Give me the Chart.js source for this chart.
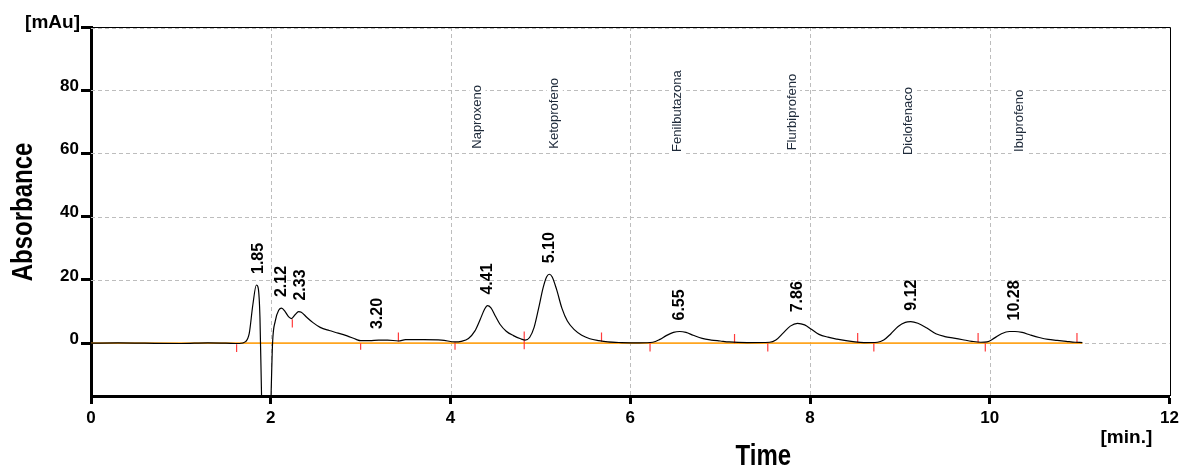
<!DOCTYPE html>
<html>
<head>
<meta charset="utf-8">
<script src="https://cdn.jsdelivr.net/npm/chart.js@4/dist/chart.umd.min.js"></script>
<style>
  html, body { margin: 0; padding: 0; background: #fff; }
  #wrap { width: 1183px; height: 469px; }
</style>
</head>
<body>
<div id="wrap"><canvas id="c" width="1183" height="469"></canvas></div>
<script>
// ---- chromatogram trace (time in min, absorbance in mAu) ----
const times = [0, 0.3, 0.6, 1.0, 1.3, 1.5, 1.65, 1.72, 1.76, 1.80, 1.84, 1.86, 1.88, 1.90, 1.93, 1.97, 2.00, 2.02, 2.05, 2.09, 2.12, 2.16, 2.20, 2.23, 2.27, 2.31, 2.34, 2.40, 2.47, 2.55, 2.65, 2.75, 2.85, 2.95, 3.00, 3.10, 3.20, 3.30, 3.42, 3.50, 3.70, 3.90, 4.05, 4.12, 4.20, 4.27, 4.33, 4.38, 4.41, 4.45, 4.50, 4.55, 4.62, 4.70, 4.78, 4.83, 4.88, 4.93, 4.98, 5.03, 5.07, 5.10, 5.13, 5.18, 5.24, 5.30, 5.38, 5.46, 5.55, 5.65, 5.75, 5.90, 6.10, 6.25, 6.33, 6.40, 6.48, 6.55, 6.62, 6.70, 6.80, 6.90, 7.00, 7.10, 7.30, 7.55, 7.62, 7.70, 7.78, 7.86, 7.94, 8.02, 8.10, 8.20, 8.30, 8.40, 8.50, 8.60, 8.75, 8.82, 8.90, 8.98, 9.06, 9.12, 9.20, 9.30, 9.40, 9.50, 9.60, 9.70, 9.80, 9.90, 9.97, 10.05, 10.13, 10.22, 10.28, 10.36, 10.45, 10.55, 10.65, 10.75, 10.85, 10.95, 11.03];
const absorbance = [0.0, 0.1, 0.0, -0.1, 0.1, 0.0, -0.1, 0.5, 3.0, 12.0, 18.4, 17.5, 8.0, -20, -45, -45, -20, 0.0, 7.0, 10.5, 11.1, 10.0, 8.3, 7.8, 9.0, 10.0, 9.8, 8.2, 6.5, 5.0, 4.0, 3.2, 2.3, 1.2, 0.8, 0.8, 1.0, 1.0, 0.7, 1.1, 1.1, 1.0, 0.4, 0.6, 1.5, 3.8, 7.5, 10.8, 11.9, 11.2, 8.5, 6.0, 3.8, 2.4, 1.4, 1.0, 1.8, 5.0, 11.0, 17.5, 21.0, 21.8, 21.0, 17.0, 11.0, 7.0, 4.2, 2.5, 1.4, 0.8, 0.4, 0.2, 0.1, 0.3, 1.2, 2.4, 3.4, 3.7, 3.4, 2.5, 1.5, 1.0, 0.7, 0.4, 0.2, 0.3, 1.0, 3.2, 5.4, 6.3, 5.8, 4.3, 2.8, 1.9, 1.3, 0.8, 0.4, 0.2, 0.3, 1.0, 3.0, 5.3, 6.6, 6.8, 6.3, 4.8, 3.0, 2.1, 1.6, 1.1, 0.6, 0.3, 0.4, 1.6, 3.0, 3.7, 3.7, 3.4, 2.6, 1.8, 1.2, 0.9, 0.6, 0.3, 0.2];

// ---- baseline ----
const baselineTimes = [0, 11.03];
const baselineValues = [0, 0];

// ---- integration marks ----
const integTimes = [1.62, 2.24, 3.00, 3.42, 4.05, 4.82, 5.68, 6.22, 7.16, 7.53, 8.53, 8.71, 9.87, 9.95, 10.97];
const integLow   = [-2.8, 5.0, -2.1, 0.5, -2.1, -1.9, 0.5, -2.6, 0.0, -2.6, 0.2, -2.6, 0.2, -2.6, 0.2];
const integHigh  = [-0.3, 7.6, 0.0, 3.4, 0.2, 3.7, 3.4, 0.0, 2.9, 0.0, 3.2, 0.0, 3.2, 0.0, 3.2];

// ---- peak retention labels ----
const peakTimes   = [1.86, 2.12, 2.33, 3.19, 4.41, 5.10, 6.55, 7.86, 9.13, 10.28];
const peakHeights = [18.4, 11.1, 10.0, 1.0, 11.9, 21.8, 3.7, 6.3, 6.8, 3.7];
const peakLabels  = ['1.85', '2.12', '2.33', '3.20', '4.41', '5.10', '6.55', '7.86', '9.12', '10.28'];

// ---- compound names ----
const compoundNames = ['Naproxeno', 'Ketoprofeno', 'Fenilbutazona', 'Flurbiprofeno', 'Diclofenaco', 'Ibuprofeno'];
const compoundTimes = [4.30, 5.16, 6.53, 7.80, 9.10, 10.33];
const compoundY     = [61.5, 61.5, 60.5, 61.0, 59.5, 60.5];

// ---- axes ----
const xTickValues = [0, 2, 4, 6, 8, 10, 12];
const yTickValues = [0, 20, 40, 60, 80, 100];
const yMin = -16.7, yMax = 100;
const xMin = 0, xMax = 12;
const yUnitLabel = '[mAu]';
const xUnitLabel = '[min.]';
const xTitle = 'Time';
const yTitle = 'Absorbance';

const FONT = "'Liberation Sans', Arial, sans-serif";

const traceData = times.map((t, i) => ({ x: t, y: absorbance[i] }));
const baselineData = baselineTimes.map((t, i) => ({ x: t, y: baselineValues[i] }));
const integData = [];
integTimes.forEach((t, i) => {
  integData.push({ x: t, y: integLow[i] });
  integData.push({ x: t, y: integHigh[i] });
  integData.push({ x: t, y: null });
});

const gridPlugin = {
  id: 'gridPlugin',
  beforeDatasetsDraw(chart) {
    const { ctx, chartArea: a, scales: { x, y } } = chart;
    ctx.save();
    ctx.strokeStyle = '#bdbdbd';
    ctx.lineWidth = 1;
    ctx.setLineDash([4, 3]);
    yTickValues.forEach(v => {
      const py = Math.round(y.getPixelForValue(v)) + 0.5 + (v === 100 ? 1 : 0);
      ctx.beginPath(); ctx.moveTo(a.left, py); ctx.lineTo(a.right, py); ctx.stroke();
    });
    xTickValues.forEach(v => {
      if (v === 0 || v === 12) return;
      const px = Math.round(x.getPixelForValue(v)) + 0.5;
      ctx.beginPath(); ctx.moveTo(px, a.top); ctx.lineTo(px, a.bottom); ctx.stroke();
    });
    ctx.setLineDash([]);
    ctx.strokeStyle = '#000';
    ctx.beginPath();
    ctx.moveTo(a.left, Math.round(a.top) + 0.5); ctx.lineTo(Math.round(a.right) + 0.5, Math.round(a.top) + 0.5);
    ctx.lineTo(Math.round(a.right) + 0.5, a.bottom);
    ctx.stroke();
    // white boxes behind compound names
    ctx.fillStyle = '#fff';
    ctx.font = '13px ' + FONT;
    compoundNames.forEach((n, i) => {
      const px = x.getPixelForValue(compoundTimes[i]);
      const py = y.getPixelForValue(compoundY[i]);
      const w = ctx.measureText(n).width;
      ctx.fillRect(px - 8, py - w - 3, 16, w + 6);
    });
    ctx.restore();
  },
  afterDatasetsDraw(chart) {
    const { ctx, chartArea: a, scales: { x, y } } = chart;
    ctx.save();
    // peak labels
    ctx.fillStyle = '#000';
    ctx.font = 'bold 16px ' + FONT;
    ctx.textAlign = 'left';
    ctx.textBaseline = 'middle';
    peakLabels.forEach((lab, i) => {
      const px = x.getPixelForValue(peakTimes[i]);
      const py = y.getPixelForValue(peakHeights[i]) - 11;
      ctx.save(); ctx.translate(px, py); ctx.rotate(-Math.PI / 2);
      ctx.fillText(lab, 0, 0); ctx.restore();
    });
    // compound names
    ctx.fillStyle = '#1e2a3a';
    ctx.font = '13px ' + FONT;
    compoundNames.forEach((n, i) => {
      const px = x.getPixelForValue(compoundTimes[i]);
      const py = y.getPixelForValue(compoundY[i]);
      ctx.save(); ctx.translate(px, py); ctx.rotate(-Math.PI / 2);
      ctx.fillText(n, 0, 0); ctx.restore();
    });
    ctx.restore();
  },
  afterDraw(chart) {
    const { ctx, chartArea: a, scales: { x, y } } = chart;
    ctx.save();
    ctx.fillStyle = '#000';
    // unit labels
    ctx.font = 'bold 19px ' + FONT;
    ctx.textAlign = 'right';
    ctx.textBaseline = 'alphabetic';
    ctx.fillText(yUnitLabel, a.left - 11, y.getPixelForValue(100) + 1);
    ctx.font = 'bold 19px ' + FONT;
    ctx.textAlign = 'center';
    ctx.fillText(xUnitLabel, x.getPixelForValue(11.52), 443);
    // axis titles (slightly stretched)
    ctx.font = 'bold 24px ' + FONT;
    ctx.save();
    ctx.translate(x.getPixelForValue(7.48), 465);
    ctx.scale(1, 1.2);
    ctx.fillText(xTitle, 0, 0);
    ctx.restore();
    ctx.save();
    ctx.translate(32, 212);
    ctx.rotate(-Math.PI / 2);
    ctx.scale(1, 1.2);
    ctx.fillText(yTitle, 0, 0);
    ctx.restore();
    ctx.restore();
  }
};

new Chart(document.getElementById('c'), {
  type: 'line',
  data: {
    datasets: [
      { data: traceData, borderColor: '#000', borderWidth: 1.2, pointRadius: 0, cubicInterpolationMode: 'monotone', order: 0 },
      { data: integData, borderColor: '#ff3b3b', borderWidth: 1.2, pointRadius: 0, spanGaps: false, order: 1 },
      { data: baselineData, borderColor: '#ffa51f', borderWidth: 1.8, pointRadius: 0, order: 2 }
    ]
  },
  options: {
    responsive: false,
    devicePixelRatio: 1,
    animation: false,
    events: [],
    layout: { padding: { top: 27, right: 11, left: 0, bottom: 0 } },
    plugins: { legend: { display: false }, tooltip: { enabled: false }, title: { display: false } },
    scales: {
      x: {
        type: 'linear', min: xMin, max: xMax,
        afterBuildTicks: s => { s.ticks = xTickValues.map(v => ({ value: v })); },
        afterFit: s => { s.height = 73; },
        ticks: { font: { family: FONT, size: 17, weight: 'bold' }, color: '#000', padding: 4, maxRotation: 0, autoSkip: false },
        grid: { display: true, drawOnChartArea: false, drawTicks: true, tickLength: 8, tickWidth: 3, tickColor: '#000' },
        border: { display: true, color: '#000', width: 3 }
      },
      y: {
        type: 'linear', min: yMin, max: yMax,
        afterBuildTicks: s => { s.ticks = yTickValues.map(v => ({ value: v })); },
        afterFit: s => { s.width = 91; },
        ticks: { font: { family: FONT, size: 17, weight: 'bold' }, color: '#000', padding: 2, labelOffset: -4,
                 callback: v => (v === 100 ? '' : String(v)) },
        grid: { display: true, drawOnChartArea: false, drawTicks: true, tickLength: 10, tickWidth: 3, tickColor: '#000' },
        border: { display: true, color: '#000', width: 3 }
      }
    }
  },
  plugins: [gridPlugin]
});
</script>
</body>
</html>
